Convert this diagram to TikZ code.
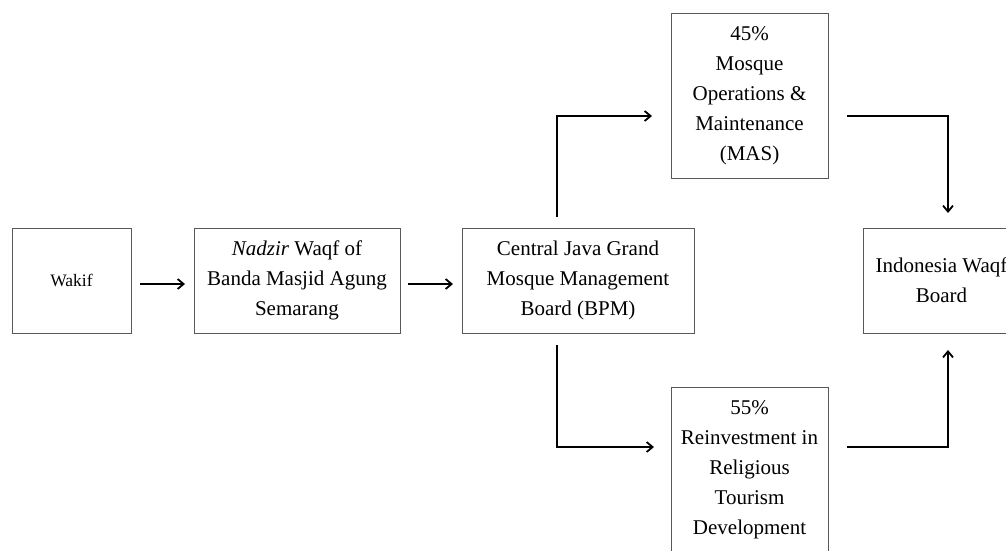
\documentclass[tikz,border=0pt]{standalone}
\usepackage{fontspec}
\setmainfont{Liberation Serif}
\usetikzlibrary{positioning,arrows.meta}

\begin{document}
\begin{tikzpicture}[
    x=1pt, y=1pt,
    node distance=60pt,
    module/.style={rectangle, draw=black!65, line width=1pt, minimum width=157pt, minimum height=105pt, align=center, inner sep=0pt, outer sep=0pt, font=\fontsize{21}{30}\selectfont},
    arrow/.style={-{Straight Barb[length=6pt,width=10pt]}, line width=1.8pt}
]
\useasboundingbox (0,0) rectangle (1006,-550);

% donor side
\node[module, minimum width=119pt, font=\fontsize{17.5}{21}\selectfont] (wakif) at (71.5,-280.5) {Wakif};
\node[module, minimum width=206pt, right=63pt of wakif] (nadzir) {\textit{Nadzir} Waqf of\\Banda Masjid Agung\\Semarang};
\node[module, minimum width=232pt, right=62pt of nadzir] (bpm) {Central Java Grand\\Mosque Management\\Board (BPM)};

% allocation
\node[module, minimum height=165pt, above=50pt of bpm, xshift=171.5pt] (mas) {45\%\\Mosque\\Operations \&\\Maintenance\\(MAS)};
\node[module, minimum height=165pt, below=54pt of bpm, xshift=171.5pt] (reinv) {55\%\\Reinvestment in\\Religious\\Tourism\\Development};
\node[module, right=169pt of bpm] (bwi) {Indonesia Waqf\\Board};

% connectors
\draw[arrow, shorten <=9pt, shorten >=9pt] ([yshift=-3.5pt]wakif.east) -- ([yshift=-3.5pt]nadzir.west);
\draw[arrow, shorten <=8pt, shorten >=9pt] ([yshift=-3.5pt]nadzir.east) -- ([yshift=-3.5pt]bpm.west);
\draw[arrow] ([xshift=-21pt, yshift=11pt]bpm.north) |- ([xshift=-19pt, yshift=-20.5pt]mas.west);
\draw[arrow] ([xshift=-21pt, yshift=-12pt]bpm.south) |- ([xshift=-17pt, yshift=22.5pt]reinv.west);
\draw[arrow] ([xshift=19pt, yshift=-20.5pt]mas.east) -| ([xshift=6.5pt, yshift=15pt]bwi.north);
\draw[arrow] ([xshift=19pt, yshift=22.5pt]reinv.east) -| ([xshift=6.5pt, yshift=-17pt]bwi.south);

\end{tikzpicture}
\end{document}
